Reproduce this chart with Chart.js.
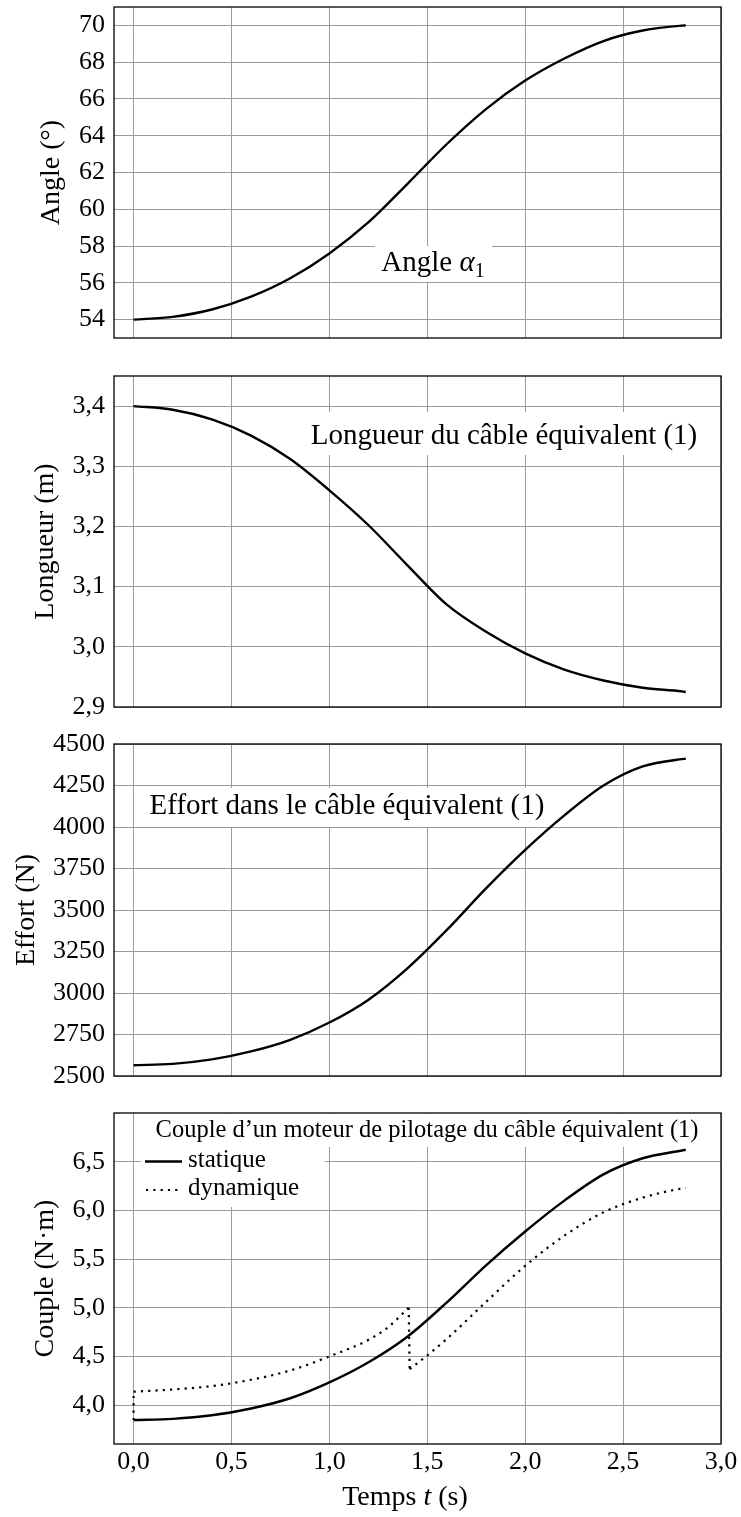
<!DOCTYPE html>
<html>
<head>
<meta charset="utf-8">
<script src="https://cdn.jsdelivr.net/npm/chart.js@4/dist/chart.umd.min.js"></script>
<style>
  body { margin: 0; background: #fff; }
  #wrap { position: relative; width: 741px; height: 1517px; }
  #wrap canvas { position: absolute; left: 0; top: 0; }
</style>
</head>
<body>
<div id="wrap">
  <canvas id="c1" width="741" height="1517"></canvas>
  <canvas id="c2" width="741" height="1517"></canvas>
  <canvas id="c3" width="741" height="1517"></canvas>
  <canvas id="c4" width="741" height="1517"></canvas>
</div>
<script>
// time axis (s)
const timeTicks = [0, 0.5, 1.0, 1.5, 2.0, 2.5, 3.0];
const timeS = [0, 0.2, 0.4, 0.6, 0.8, 1.0, 1.2, 1.4, 1.6, 1.8, 2.0, 2.2, 2.4, 2.6, 2.8, 2.82];

// values
const angleDeg = [54.0, 54.15, 54.55, 55.25, 56.25, 57.6, 59.3, 61.4, 63.55, 65.45, 67.0, 68.2, 69.15, 69.72, 69.99, 70.0];
const lengthM = [3.400, 3.394, 3.378, 3.351, 3.312, 3.260, 3.202, 3.135, 3.070, 3.025, 2.989, 2.962, 2.944, 2.932, 2.926, 2.925];
const effortN = [2565, 2573, 2600, 2648, 2718, 2822, 2960, 3150, 3380, 3630, 3862, 4070, 4250, 4365, 4409, 4411];
const coupleStatique = [3.846, 3.858, 3.895, 3.965, 4.070, 4.233, 4.440, 4.705, 5.055, 5.435, 5.783, 6.100, 6.370, 6.535, 6.615, 6.623];

// dynamic torque, with the two jumps (t = 0 and t ≈ 1.4 s)
const timeDyn = [0, 0, 0.2, 0.4, 0.6, 0.8, 1.0, 1.2, 1.3, 1.405, 1.41, 1.5, 1.6, 1.8, 2.0, 2.2, 2.4, 2.6, 2.8, 2.82];
const coupleDynamique = [3.846, 4.137, 4.16, 4.195, 4.26, 4.355, 4.50, 4.67, 4.80, 5.00, 4.37, 4.51, 4.68, 5.06, 5.43, 5.74, 5.98, 6.13, 6.225, 6.23];
const dynBreaks = [1, 9, 10]; // indices where the curve jumps

// y tick labels per panel
const angleTicks = [54, 56, 58, 60, 62, 64, 66, 68, 70];
const lengthTicks = [2.9, 3.0, 3.1, 3.2, 3.3, 3.4];
const effortTicks = [2500, 2750, 3000, 3250, 3500, 3750, 4000, 4250, 4500];
const coupleTicks = [4.0, 4.5, 5.0, 5.5, 6.0, 6.5];

const W = 741, H = 1517, LEFT = 114, RIGHT = 721;
const SERIF = '"Liberation Serif", "DejaVu Serif", serif';
const GRID = '#9a9a9a';
const DOTS = [2.2, 5.1];

const comma = v => v.toFixed(1).replace('.', ',');
const pts = (xs, ys) => xs.map((x, i) => ({ x: x, y: ys[i] }));

function drawRuns(ctx, runs, x, y, align) {
  let total = 0;
  runs.forEach(r => { ctx.font = r.font; r.w = ctx.measureText(r.text).width; total += r.w; });
  let cx = align === 'center' ? x - total / 2 : x;
  ctx.textAlign = 'left';
  ctx.textBaseline = 'alphabetic';
  ctx.fillStyle = '#000';
  runs.forEach(r => { ctx.font = r.font; ctx.fillText(r.text, cx, y + (r.dy || 0)); cx += r.w; });
}

// white label boxes, legend samples, frame
const decor = {
  id: 'decor',
  beforeDatasetsDraw(chart, args, opts) {
    const ctx = chart.ctx;
    ctx.save();
    (opts.boxes || []).forEach(b => {
      ctx.fillStyle = '#fff';
      ctx.fillRect(b.rect[0], b.rect[1], b.rect[2] - b.rect[0], b.rect[3] - b.rect[1]);
    });
    (opts.texts || []).forEach(t => drawRuns(ctx, t.runs, t.x, t.y, t.align));
    (opts.samples || []).forEach(s => {
      ctx.beginPath();
      ctx.strokeStyle = '#000';
      ctx.lineWidth = s.width;
      ctx.setLineDash(s.dash);
      ctx.moveTo(s.x1, s.y);
      ctx.lineTo(s.x2, s.y);
      ctx.stroke();
    });
    ctx.restore();
  },
  afterDraw(chart) {
    const a = chart.chartArea, ctx = chart.ctx;
    ctx.save();
    ctx.strokeStyle = '#000';
    ctx.lineWidth = 1.3;
    ctx.strokeRect(a.left, a.top, a.right - a.left, a.bottom - a.top);
    ctx.restore();
  }
};

function panel(id, p) {
  const xh = p.showX ? 73 : 0;
  return new Chart(document.getElementById(id), {
    type: 'line',
    data: { datasets: p.datasets },
    plugins: [decor],
    options: {
      responsive: false,
      animation: false,
      devicePixelRatio: 1,
      layout: { padding: { left: 0, right: W - RIGHT, top: p.top, bottom: H - p.bottom - xh } },
      plugins: { legend: { display: false }, tooltip: { enabled: false }, decor: p.decor || {} },
      scales: {
        x: {
          type: 'linear', min: -0.1, max: 3.0,
          afterBuildTicks: s => { s.ticks = timeTicks.map(v => ({ value: v })); },
          afterFit: s => { s.height = xh; s.paddingLeft = 0; s.paddingRight = 0; },
          grid: { color: GRID, lineWidth: 1, drawTicks: false },
          border: { display: false },
          ticks: { display: p.showX, color: '#000', padding: 3, font: { family: SERIF, size: 26 }, callback: v => comma(v), maxRotation: 0 }
        },
        y: {
          type: 'linear', min: p.min, max: p.max,
          afterBuildTicks: s => { s.ticks = p.ticks.map(v => ({ value: v })); },
          afterFit: s => { s.width = LEFT; s.paddingTop = 0; s.paddingBottom = 0; },
          grid: { color: GRID, lineWidth: 1, drawTicks: false },
          border: { display: false },
          ticks: { color: '#000', padding: 9, font: { family: SERIF, size: 26 }, callback: p.fmt },
          title: { display: true, text: p.title, color: '#000', font: { family: SERIF, size: 28 }, padding: { top: p.titlePad, bottom: 0 } }
        }
      }
    }
  });
}

const solid = data => ({ data: data, borderColor: '#000', borderWidth: 2.4, pointRadius: 0, fill: false, cubicInterpolationMode: 'monotone' });
const dotted = data => ({ data: data, borderColor: '#000', borderWidth: 2.2, borderDash: DOTS, pointRadius: 0, fill: false, cubicInterpolationMode: 'monotone' });

// split the dynamic series at its jumps so each piece is smoothed on its own
const dynPieces = [];
let start = 0;
dynBreaks.concat([timeDyn.length - 1]).forEach(b => {
  dynPieces.push(dotted(pts(timeDyn.slice(start, b + 1), coupleDynamique.slice(start, b + 1))));
  start = b;
});

const F29 = '29px ' + SERIF, F29I = 'italic 29px ' + SERIF;

panel('c1', {
  top: 7, bottom: 338, min: 53, max: 71, ticks: angleTicks, fmt: v => String(v),
  title: 'Angle (°)', titlePad: 35,
  datasets: [solid(pts(timeS, angleDeg))],
  decor: {
    boxes: [{ rect: [375, 246, 492, 282] }],
    texts: [{ x: 433, y: 271, align: 'center', runs: [
      { text: 'Angle ', font: F29 }, { text: 'α', font: F29I }, { text: '1', font: '20px ' + SERIF, dy: 6 }] }]
  }
});

panel('c2', {
  top: 376, bottom: 707, min: 2.9, max: 3.45, ticks: lengthTicks, fmt: v => comma(v),
  title: 'Longueur (m)', titlePad: 29,
  datasets: [solid(pts(timeS, lengthM))],
  decor: {
    boxes: [{ rect: [305, 412, 706, 455] }],
    texts: [{ x: 504, y: 444, align: 'center', runs: [{ text: 'Longueur du câble équivalent (1)', font: F29 }] }]
  }
});

panel('c3', {
  top: 744, bottom: 1076, min: 2500, max: 4500, ticks: effortTicks, fmt: v => String(v),
  title: 'Effort (N)', titlePad: 10,
  datasets: [solid(pts(timeS, effortN))],
  decor: {
    boxes: [{ rect: [141, 788, 553, 827] }],
    texts: [{ x: 347, y: 814, align: 'center', runs: [{ text: 'Effort dans le câble équivalent (1)', font: F29 }] }]
  }
});

panel('c4', {
  top: 1113, bottom: 1444, min: 3.6, max: 7.0, ticks: coupleTicks, fmt: v => comma(v),
  title: 'Couple (N·m)', titlePad: 29, showX: true,
  datasets: [solid(pts(timeS, coupleStatique))].concat(dynPieces),
  decor: {
    boxes: [{ rect: [145, 1114, 713, 1147] }, { rect: [141, 1147, 325, 1207] }],
    texts: [
      { x: 427, y: 1137, align: 'center', runs: [{ text: 'Couple d’un moteur de pilotage du câble équivalent (1)', font: '24.5px ' + SERIF }] },
      { x: 188, y: 1167, align: 'left', runs: [{ text: 'statique', font: '25px ' + SERIF }] },
      { x: 188, y: 1195, align: 'left', runs: [{ text: 'dynamique', font: '25px ' + SERIF }] },
      { x: 405, y: 1505, align: 'center', runs: [
        { text: 'Temps ', font: '28px ' + SERIF }, { text: 't', font: 'italic 28px ' + SERIF }, { text: ' (s)', font: '28px ' + SERIF }] }
    ],
    samples: [
      { x1: 145, x2: 182, y: 1161.5, width: 2.4, dash: [] },
      { x1: 146, x2: 182, y: 1190, width: 2.2, dash: DOTS }
    ]
  }
});
</script>
</body>
</html>
